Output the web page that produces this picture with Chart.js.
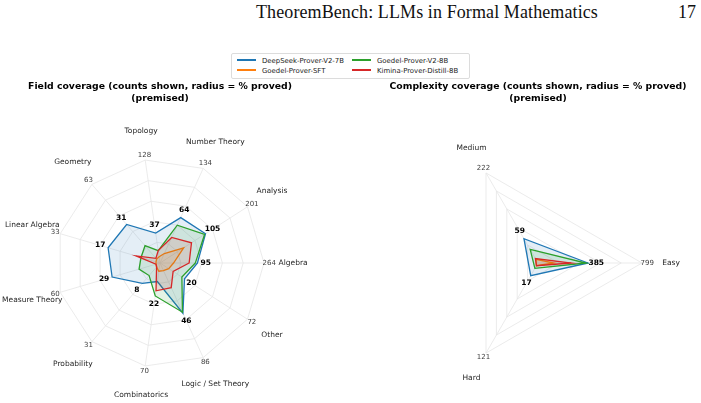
<!DOCTYPE html>
<html>
<head>
<meta charset="utf-8">
<script src="https://cdn.jsdelivr.net/npm/chart.js@4.4.1/dist/chart.umd.min.js"></script>
<style>
  body { margin: 0; width: 701px; height: 403px; background: #fff; position: relative; overflow: hidden; font-family: "DejaVu Sans", sans-serif; }
  #header { position: absolute; left: 256px; top: 2px; font: 18px "Liberation Serif", serif; color: #111; white-space: nowrap; letter-spacing: 0.1px; }
  #page { position: absolute; left: 678px; top: 2px; font: 18px "Liberation Serif", serif; color: #111; }
  canvas { position: absolute; top: 0; }
  #legend { position: absolute; left: 231px; top: 53px; width: 237px; height: 24px; border: 1px solid #dcdcdc; border-radius: 2px; background: #fff; }
  .item { position: absolute; font-size: 6.9px; color: #222; white-space: nowrap; line-height: 9px; }
  .item i { display: inline-block; width: 19px; height: 1.5px; vertical-align: middle; margin-right: 6px; position: relative; top: -1px; }
</style>
</head>
<body>
<div id="header">TheoremBench: LLMs in Formal Mathematics</div>
<div id="page">17</div>
<canvas id="fieldChart" width="350" height="403" style="left:0"></canvas>
<canvas id="complexityChart" width="351" height="403" style="left:350px"></canvas>
<div id="legend"></div>
<script>
// field radar (counter-clockwise from the right, as in the figure)
const fieldLabels = ['Algebra', 'Analysis', 'Number Theory', 'Topology', 'Geometry', 'Linear Algebra',
  'Measure Theory', 'Probability', 'Combinatorics', 'Logic / Set Theory', 'Other'];
const fieldTotals = [264, 201, 134, 128, 63, 33, 60, 31, 70, 86, 72];
const fieldBest = [95, 105, 64, 37, 31, 17, 29, 8, 22, 46, 20];
// % proved per field
const fieldDeepSeek = [36, 52, 48, 29, 49, 52, 48, 26, 18, 53, 28];
const fieldGoedelSFT = [13, 27, 10, 6, 5, 4, 4, 5, 8, 8, 10];
const fieldGoedelV2 = [34, 51, 40, 12, 22, 19, 21, 16, 32, 52, 25];
const fieldKimina = [28, 36, 27, 12, 6, 24, 4, 5, 27, 26, 15];

// complexity radar
const complexityLabels = ['Easy', 'Medium', 'Hard'];
const complexityTotals = [799, 222, 121];
const complexityBest = [385, 59, 17];
const complexityDeepSeek = [48, 27, 14];
const complexityGoedelSFT = [15, 4, 3];
const complexityGoedelV2 = [46, 15, 6];
const complexityKimina = [32, 5, 3];

const models = ['DeepSeek-Prover-V2-7B', 'Goedel-Prover-SFT', 'Goedel-Prover-V2-8B', 'Kimina-Prover-Distill-8B'];
const colors = ['#1f77b4', '#ff7f0e', '#2ca02c', '#d62728'];
const fills = ['rgba(31,119,180,0.12)', 'rgba(255,127,14,0.12)', 'rgba(44,160,44,0.12)', 'rgba(214,39,40,0.12)'];

// chart.js goes clockwise, the figure goes counter-clockwise
const ccw = arr => [arr[0], ...arr.slice(1).reverse()];

const radarLabels = {
  id: 'radarLabels',
  afterDraw(chart, args, opts) {
    const r = chart.scales.r;
    const ctx = chart.ctx;
    ctx.save();
    ctx.textAlign = 'center';
    ctx.textBaseline = 'middle';
    // title, centred over the radar
    ctx.font = 'bold 9.3px "DejaVu Sans"';
    ctx.fillStyle = '#000';
    ctx.fillText(opts.title, r.xCenter, 87);
    ctx.fillText('(premised)', r.xCenter, 99);
    opts.names.forEach((name, i) => {
      let p = r.getPointPositionForValue(i, 128);
      ctx.font = '7.5px "DejaVu Sans"';
      ctx.fillStyle = '#262626';
      ctx.fillText(name, p.x, p.y);
      p = r.getPointPositionForValue(i, 105);
      ctx.font = '7px "DejaVu Sans"';
      ctx.fillStyle = '#404040';
      ctx.fillText(String(opts.totals[i]), p.x, p.y);
      const top = Math.max(...chart.data.datasets.map(d => d.data[i]));
      p = r.getPointPositionForValue(i, top + 8);
      ctx.font = 'bold 7.5px "DejaVu Sans"';
      ctx.fillStyle = '#000';
      ctx.fillText(String(opts.best[i]), p.x, p.y);
    });
    ctx.restore();
  }
};

function makeRadar(id, labels, series, totals, best, title, pad) {
  return new Chart(document.getElementById(id), {
    type: 'radar',
    data: {
      labels: ccw(labels),
      datasets: series.map((s, k) => ({
        label: models[k],
        data: ccw(s),
        borderColor: colors[k],
        backgroundColor: fills[k],
        borderWidth: 1.3,
        pointRadius: 0,
        fill: true,
        order: 4 - k
      }))
    },
    options: {
      responsive: false,
      animation: false,
      devicePixelRatio: 1,
      layout: { padding: pad },
      scales: {
        r: {
          min: 0,
          max: 100,
          startAngle: 90,
          ticks: { display: false, stepSize: 20 },
          pointLabels: { display: false },
          grid: { color: '#e6e6e6', lineWidth: 0.8 },
          angleLines: { color: '#e6e6e6', lineWidth: 0.8 }
        }
      },
      plugins: {
        legend: { display: false },
        tooltip: { enabled: false },
        radarLabels: { title: title, names: ccw(labels), totals: ccw(totals), best: ccw(best) }
      }
    },
    plugins: [radarLabels]
  });
}

makeRadar('fieldChart', fieldLabels,
  [fieldDeepSeek, fieldGoedelSFT, fieldGoedelV2, fieldKimina],
  fieldTotals, fieldBest,
  'Field coverage (counts shown, radius = % proved)',
  { top: 159, left: 56, right: 86, bottom: 36 });

makeRadar('complexityChart', complexityLabels,
  [complexityDeepSeek, complexityGoedelSFT, complexityGoedelV2, complexityKimina],
  complexityTotals, complexityBest,
  'Complexity coverage (counts shown, radius = % proved)',
  { top: 159, left: 84, right: 58, bottom: 36 });

// legend, two columns like the figure
const legend = document.getElementById('legend');
models.forEach((m, k) => {
  const d = document.createElement('div');
  d.className = 'item';
  d.style.left = (k < 2 ? 5 : 120) + 'px';
  d.style.top = (k % 2 === 0 ? 3 : 13) + 'px';
  d.innerHTML = '<i style="background:' + colors[k] + '"></i>' + m;
  legend.appendChild(d);
});
</script>
</body>
</html>
